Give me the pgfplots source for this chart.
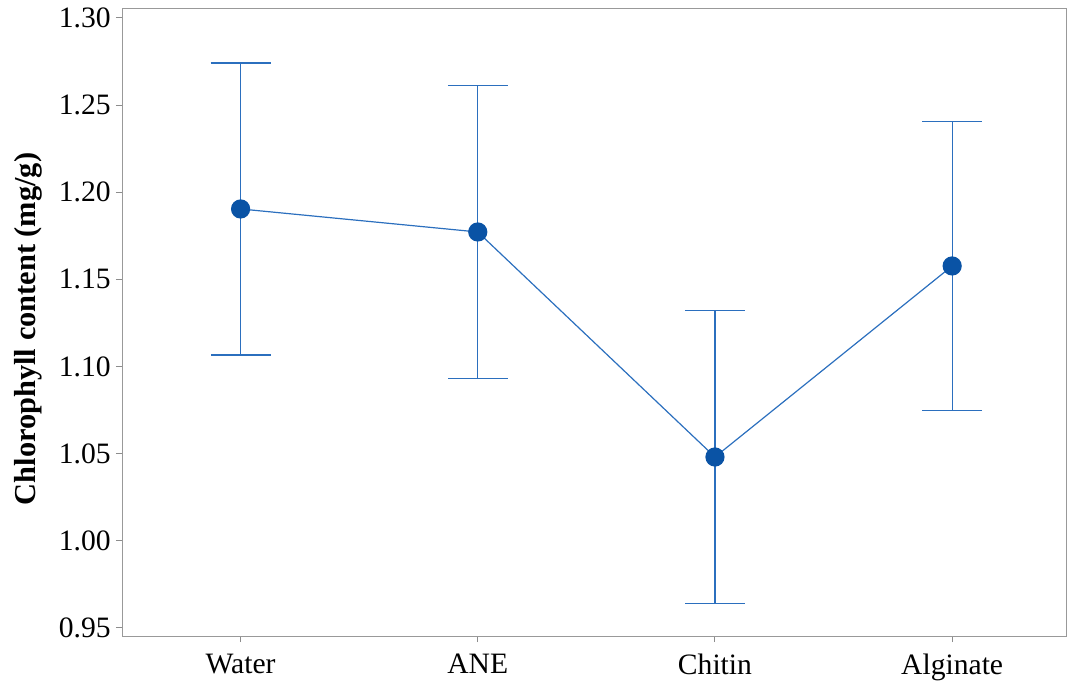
\documentclass[border=0pt]{standalone}
\usepackage{pgfplots}
\pgfplotsset{compat=1.18}
\usepackage{fontspec}
\setmainfont{Liberation Serif}
\definecolor{lineblue}{HTML}{2B6FBE}
\definecolor{dotblue}{HTML}{0A53A5}
\begin{document}
\fontsize{14.8}{17}\selectfont
\begin{tikzpicture}
\useasboundingbox (0,0) rectangle (533.5pt,341pt);
\begin{axis}[
  at={(61pt,23pt)}, anchor=south west,
  scale only axis,
  width=472pt, height=314pt,
  xmin=-0.5, xmax=3.48,
  ymin=0.9454, ymax=1.3057,
  xtick={0,1,2,3},
  xticklabels={Water,ANE,Chitin,Alginate},
  ytick={0.95,1.00,1.05,1.10,1.15,1.20,1.25,1.30},
  yticklabel style={/pgf/number format/fixed,/pgf/number format/fixed zerofill,/pgf/number format/precision=2, xshift=2.5pt},
  /pgf/number format/assume math mode=true,
  tick label style={font=\fontsize{14.8}{17}\selectfont},
  axis line style={gray!80},
  tick style={gray!90, line width=0.5pt},
  major tick length=3pt,
  tick align=outside,
  xtick pos=bottom, ytick pos=left,
  ylabel={\textbf{Chlorophyll content (mg/g)}},
  ylabel style={at={(axis description cs:-0.0995,0.489)}, anchor=center, font=\fontsize{15.2}{17}\selectfont},
  xticklabel style={yshift=-1pt},
]
\addplot+[
  color=lineblue, line width=0.6pt,
  mark=*, mark size=4.5pt,
  mark options={fill=dotblue, draw=dotblue},
  error bars/.cd, y dir=both, y explicit,
  error bar style={lineblue, line width=0.6pt},
  error mark options={rotate=90, mark size=15pt, lineblue, line width=0.6pt},
] coordinates {
  (0,1.1904) +- (0,0.0838)
  (1,1.1772) +- (0,0.0840)
  (2,1.0481) +- (0,0.0840)
  (3,1.1577) +- (0,0.0830)
};
\end{axis}
\end{tikzpicture}
\end{document}
